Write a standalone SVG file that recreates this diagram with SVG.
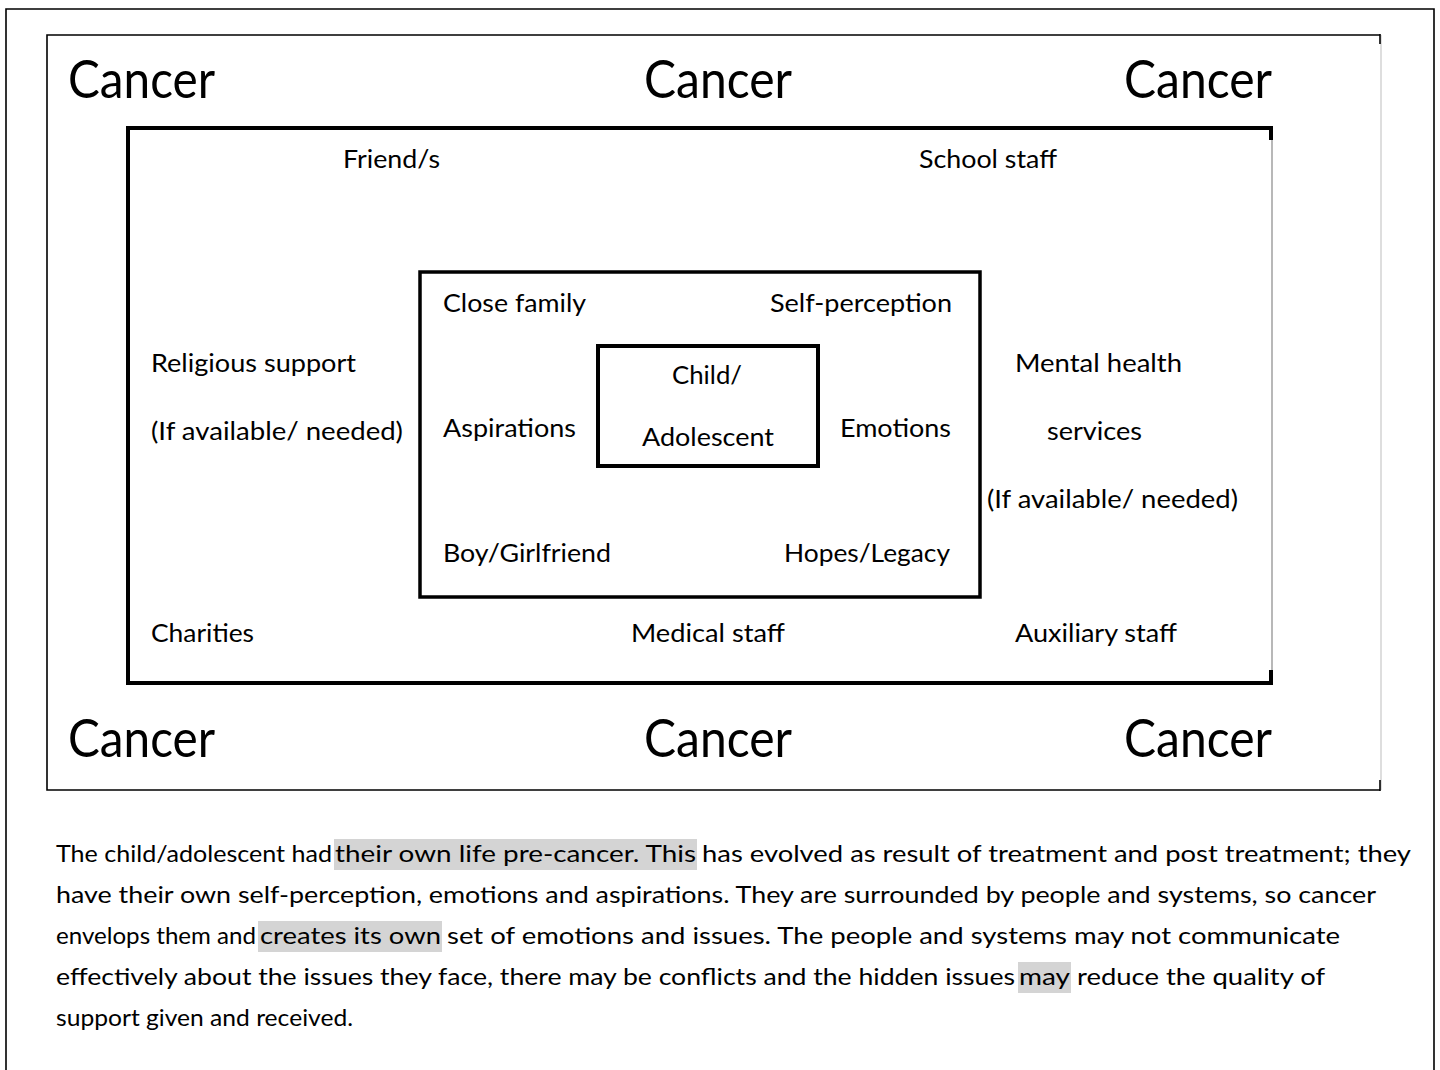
<svg xmlns="http://www.w3.org/2000/svg" width="1440" height="1070" viewBox="0 0 1440 1070">
<style>
.t{font-family:Lato,"Open Sans","Liberation Sans",sans-serif;fill:#000;}
.big{font-size:52px;}
.lab{font-size:25px;}
.body{font-size:24px;}
.frame{fill:none;stroke:#000;}
.hl{fill:#d4d4d4;}
</style>
<rect width="1440" height="1070" fill="#fff"/>
<g id="page-frame">
<path d="M6,1070 V9 H1434 V1070" class="frame" stroke-width="1.6"/>
</g>
<g id="cancer-frame">
<path d="M1380,35 H47 V790 H1380" class="frame" stroke-width="1.6"/>
<line x1="1381" y1="35" x2="1381" y2="790" stroke="#c8c8c8" stroke-width="1.2"/>
<line x1="1380" y1="34" x2="1380" y2="44" stroke="#000" stroke-width="1.6"/>
<line x1="1380" y1="780" x2="1380" y2="791" stroke="#000" stroke-width="1.6"/>
<text class="t big" x="68" y="98" textLength="147" lengthAdjust="spacingAndGlyphs">Cancer</text>
<text class="t big" x="644" y="98" textLength="148" lengthAdjust="spacingAndGlyphs">Cancer</text>
<text class="t big" x="1124" y="98" textLength="148" lengthAdjust="spacingAndGlyphs">Cancer</text>
<text class="t big" x="68" y="757" textLength="147" lengthAdjust="spacingAndGlyphs">Cancer</text>
<text class="t big" x="644" y="757" textLength="148" lengthAdjust="spacingAndGlyphs">Cancer</text>
<text class="t big" x="1124" y="757" textLength="148" lengthAdjust="spacingAndGlyphs">Cancer</text>
</g>
<g id="outer-circle">
<path d="M1272,128 H128 V683 H1272" class="frame" stroke-width="4"/>
<line x1="1272" y1="128" x2="1272" y2="683" stroke="#a0a0a0" stroke-width="1.5"/>
<line x1="1271" y1="126" x2="1271" y2="140" stroke="#000" stroke-width="4"/>
<line x1="1271" y1="670" x2="1271" y2="685" stroke="#000" stroke-width="4"/>
<text class="t lab" x="343" y="168" textLength="97" lengthAdjust="spacingAndGlyphs">Friend/s</text>
<text class="t lab" x="919" y="168" textLength="138" lengthAdjust="spacingAndGlyphs">School staff</text>
<text class="t lab" x="151" y="372" textLength="205" lengthAdjust="spacingAndGlyphs">Religious support</text>
<text class="t lab" x="151" y="440" textLength="252" lengthAdjust="spacingAndGlyphs">(If available/ needed)</text>
<text class="t lab" x="1015" y="372" textLength="167" lengthAdjust="spacingAndGlyphs">Mental health</text>
<text class="t lab" x="1047" y="440" textLength="95" lengthAdjust="spacingAndGlyphs">services</text>
<text class="t lab" x="987" y="508" textLength="251" lengthAdjust="spacingAndGlyphs">(If available/ needed)</text>
<text class="t lab" x="151" y="642" textLength="103" lengthAdjust="spacingAndGlyphs">Charities</text>
<text class="t lab" x="631" y="642" textLength="154" lengthAdjust="spacingAndGlyphs">Medical staff</text>
<text class="t lab" x="1015" y="642" textLength="162" lengthAdjust="spacingAndGlyphs">Auxiliary staff</text>
</g>
<g id="inner-circle">
<rect x="420" y="272" width="560" height="325" class="frame" stroke-width="3.5"/>
<text class="t lab" x="443" y="312" textLength="143" lengthAdjust="spacingAndGlyphs">Close family</text>
<text class="t lab" x="770" y="312" textLength="182" lengthAdjust="spacingAndGlyphs">Self-perception</text>
<text class="t lab" x="443" y="437" textLength="133" lengthAdjust="spacingAndGlyphs">Aspirations</text>
<text class="t lab" x="840" y="437" textLength="111" lengthAdjust="spacingAndGlyphs">Emotions</text>
<text class="t lab" x="443" y="562" textLength="168" lengthAdjust="spacingAndGlyphs">Boy/Girlfriend</text>
<text class="t lab" x="784" y="562" textLength="166" lengthAdjust="spacingAndGlyphs">Hopes/Legacy</text>
</g>
<g id="child">
<rect x="598" y="346" width="220" height="120" class="frame" stroke-width="4"/>
<text class="t lab" x="672" y="384" textLength="70" lengthAdjust="spacingAndGlyphs">Child/</text>
<text class="t lab" x="642" y="446" textLength="132" lengthAdjust="spacingAndGlyphs">Adolescent</text>
</g>
<g id="connectors"></g>
<g id="caption">
<rect class="hl" x="334" y="839" width="363" height="31"/>
<rect class="hl" x="258" y="921" width="184" height="31"/>
<rect class="hl" x="1018" y="962" width="53" height="31"/>
<text class="t body" x="56" y="862" textLength="276" lengthAdjust="spacingAndGlyphs">The child/adolescent had</text>
<text class="t body" x="335" y="862" textLength="361" lengthAdjust="spacingAndGlyphs">their own life pre-cancer. This</text>
<text class="t body" x="702" y="862" textLength="709" lengthAdjust="spacingAndGlyphs">has evolved as result of treatment and post treatment; they</text>
<text class="t body" x="56" y="903" textLength="1320" lengthAdjust="spacingAndGlyphs">have their own self-perception, emotions and aspirations. They are surrounded by people and systems, so cancer</text>
<text class="t body" x="56" y="944" textLength="200" lengthAdjust="spacingAndGlyphs">envelops them and</text>
<text class="t body" x="260" y="944" textLength="181" lengthAdjust="spacingAndGlyphs">creates its own</text>
<text class="t body" x="447" y="944" textLength="893" lengthAdjust="spacingAndGlyphs">set of emotions and issues. The people and systems may not communicate</text>
<text class="t body" x="56" y="985" textLength="959" lengthAdjust="spacingAndGlyphs">effectively about the issues they face, there may be conflicts and the hidden issues</text>
<text class="t body" x="1019" y="985" textLength="51" lengthAdjust="spacingAndGlyphs">may</text>
<text class="t body" x="1077" y="985" textLength="248" lengthAdjust="spacingAndGlyphs">reduce the quality of</text>
<text class="t body" x="56" y="1026" textLength="297" lengthAdjust="spacingAndGlyphs">support given and received.</text>
</g>
</svg>
